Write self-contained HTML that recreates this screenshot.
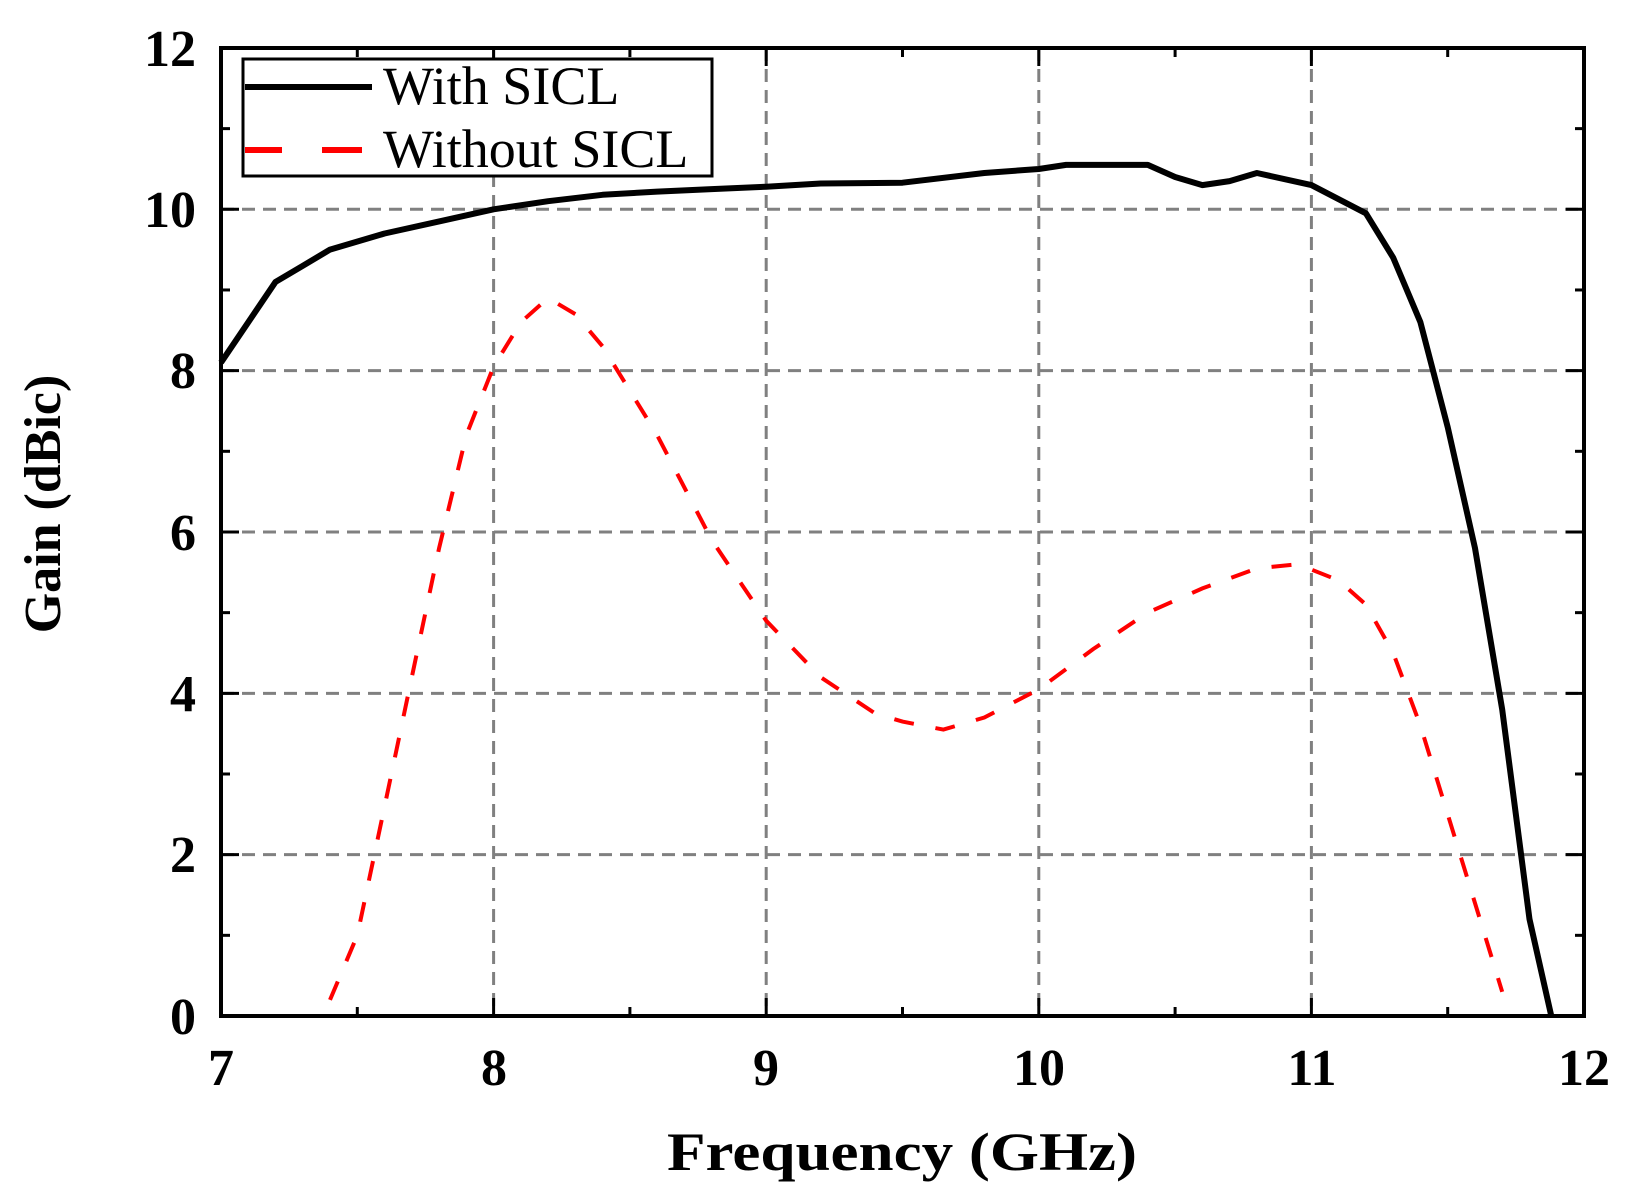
<!DOCTYPE html>
<html><head><meta charset="utf-8"><style>
html,body{margin:0;padding:0;background:#fff;}
svg{display:block;}
text{font-family:"Liberation Serif",serif;font-weight:bold;fill:#000;}
</style></head><body>
<svg id="s" width="1628" height="1197" viewBox="0 0 1628 1197" xmlns="http://www.w3.org/2000/svg">
<g id="grid" stroke="#808080" stroke-width="3" stroke-dasharray="13,8" fill="none"></g>
<g id="ticks" stroke="#000" stroke-width="3"></g>
<path id="blk" fill="none" stroke="#000" stroke-width="6" stroke-linejoin="round"/>
<path id="red" fill="none" stroke="#ff0000" stroke-width="4" stroke-dasharray="20,22"/>
<rect x="221" y="48" width="1363" height="968" fill="none" stroke="#000" stroke-width="4"/>
<rect x="243" y="59" width="469" height="117" fill="#fff" stroke="#000" stroke-width="3"/>
<line x1="245" y1="87" x2="372" y2="87" stroke="#000" stroke-width="6"/>
<line x1="245" y1="150" x2="282" y2="150" stroke="#ff0000" stroke-width="6"/>
<line x1="322" y1="150" x2="362" y2="150" stroke="#ff0000" stroke-width="6"/>
<text x="383" y="104" font-size="54" style="font-weight:normal">With SICL</text>
<text x="383" y="167" font-size="54" style="font-weight:normal">Without SICL</text>
<g font-size="52" text-anchor="end">
<text x="196" y="66">12</text><text x="196" y="227">10</text><text x="196" y="388">8</text>
<text x="196" y="550">6</text><text x="196" y="711">4</text><text x="196" y="872">2</text><text x="196" y="1034">0</text>
</g>
<g font-size="52" text-anchor="middle">
<text x="221" y="1085">7</text><text x="494" y="1085">8</text><text x="766" y="1085">9</text>
<text x="1039" y="1085">10</text><text x="1312" y="1085">11</text><text x="1584" y="1085">12</text>
</g>
<text x="902" y="1170" font-size="54" text-anchor="middle" textLength="470" lengthAdjust="spacingAndGlyphs">Frequency (GHz)</text>
<text transform="translate(60,504) rotate(-90)" font-size="52" text-anchor="middle">Gain (dBic)</text>
</svg>
<script>
var X=function(f){return 221+(f-7)*272.6},Y=function(g){return 1016-g*80.67};
var grid=document.getElementById('grid'),ticks=document.getElementById('ticks'),h='',t='';
for(var f=8;f<12;f++)h+='<line x1="'+X(f)+'" y1="48" x2="'+X(f)+'" y2="1016"/>';
for(var g=2;g<12;g+=2)h+='<line x1="221" y1="'+Y(g)+'" x2="1584" y2="'+Y(g)+'"/>';
grid.innerHTML=h;
for(var f=7;f<=12;f+=0.5){var L=(f%1==0)?18:9;t+='<line x1="'+X(f)+'" y1="1016" x2="'+X(f)+'" y2="'+(1016-L)+'"/><line x1="'+X(f)+'" y1="48" x2="'+X(f)+'" y2="'+(48+L)+'"/>';}
for(var g=0;g<=12;g+=1){var L=(g%2==0)?18:9;t+='<line x1="221" y1="'+Y(g)+'" x2="'+(221+L)+'" y2="'+Y(g)+'"/><line x1="1584" y1="'+Y(g)+'" x2="'+(1584-L)+'" y2="'+Y(g)+'"/>';}
ticks.innerHTML=t;
var b=[[7,8.1],[7.1,8.6],[7.2,9.1],[7.3,9.3],[7.4,9.5],[7.6,9.7],[7.8,9.85],[8,10],[8.2,10.1],[8.4,10.18],[8.6,10.22],[8.8,10.25],[9,10.28],[9.2,10.32],[9.5,10.33],[9.8,10.45],[10,10.5],[10.1,10.55],[10.4,10.55],[10.5,10.4],[10.6,10.3],[10.7,10.35],[10.8,10.45],[11,10.3],[11.2,9.95],[11.3,9.4],[11.4,8.6],[11.5,7.3],[11.6,5.8],[11.7,3.8],[11.8,1.2],[11.88,0]];
var r=[[7.4,0.2],[7.5,1.0],[7.6,2.6],[7.7,4.2],[7.8,5.8],[7.9,7.2],[8,8.05],[8.1,8.6],[8.2,8.9],[8.3,8.7],[8.4,8.3],[8.6,7.2],[8.8,5.9],[9,4.9],[9.2,4.2],[9.4,3.75],[9.5,3.65],[9.65,3.55],[9.8,3.7],[10,4.05],[10.2,4.55],[10.4,5.0],[10.6,5.3],[10.8,5.55],[10.95,5.6],[11.1,5.4],[11.2,5.1],[11.3,4.5],[11.4,3.6],[11.5,2.5],[11.6,1.4],[11.7,0.3]];
function p(a){return a.map(function(q,i){return (i?'L':'M')+X(q[0]).toFixed(1)+' '+Y(q[1]).toFixed(1)}).join(' ')}
document.getElementById('blk').setAttribute('d',p(b));
document.getElementById('red').setAttribute('d',p(r));
</script>
</body></html>
